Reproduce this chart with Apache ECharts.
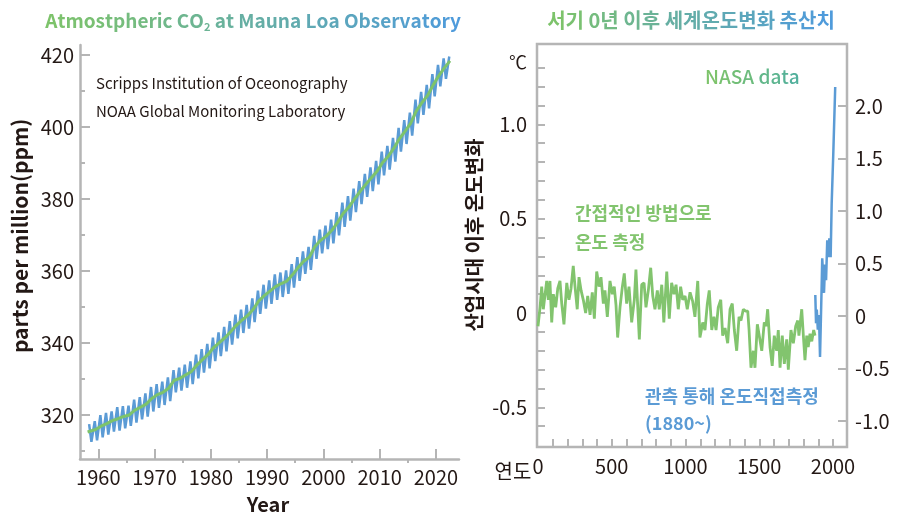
<!DOCTYPE html>
<html><head><meta charset="utf-8">
<script src="https://cdn.jsdelivr.net/npm/echarts@6/dist/echarts.min.js"></script>
<style>html,body{margin:0;padding:0;background:#fff}#c{width:910px;height:517px}</style>
</head><body><div id="c"></div>
<script>
// ---------- Left chart: CO2 at Mauna Loa ----------
const co2Years = [1958,1959,1960,1961,1962,1963,1964,1965,1966,1967,
  1968,1969,1970,1971,1972,1973,1974,1975,1976,1977,
  1978,1979,1980,1981,1982,1983,1984,1985,1986,1987,
  1988,1989,1990,1991,1992,1993,1994,1995,1996,1997,
  1998,1999,2000,2001,2002,2003,2004,2005,2006,2007,
  2008,2009,2010,2011,2012,2013,2014,2015,2016,2017,
  2018,2019,2020,2021,2022];
const co2Annual = [315.3,315.98,316.91,317.64,318.45,318.99,319.62,320.04,321.37,322.18,
  323.05,324.62,325.68,326.32,327.46,329.68,330.19,331.13,332.03,333.84,
  335.41,336.84,338.76,340.12,341.48,343.15,344.87,346.35,347.61,349.31,
  351.69,353.20,354.45,355.70,356.54,357.21,358.96,360.97,362.74,363.88,
  366.84,368.54,369.71,371.32,373.45,375.98,377.70,379.98,382.09,384.02,
  385.83,387.64,390.10,391.85,394.06,396.74,398.81,401.01,404.41,406.76,
  408.72,411.66,414.24,416.45,418.4];
const co2SeasonMax = [317.5,318.3,320.0,320.6,321.0,322.2,322.5,322.6,324.3,325.0,
  326.0,327.8,328.6,329.3,330.5,332.5,333.2,334.0,334.9,336.8,
  338.3,339.8,341.5,343.0,344.5,346.1,347.9,349.3,350.6,352.4,
  354.6,356.2,357.4,359.1,359.6,360.2,361.9,363.9,365.5,366.7,
  369.8,371.5,372.6,374.3,376.4,379.0,380.8,382.9,385.0,387.0,
  388.8,390.6,393.2,394.8,397.0,399.8,401.9,404.0,407.6,409.8,
  411.7,414.7,417.3,419.1,419.6];
const co2SeasonMin = [312.6,313.0,313.8,314.6,315.4,315.7,316.3,317.0,317.9,318.8,
  319.6,321.0,322.0,322.8,323.9,326.3,326.8,327.6,328.6,330.2,
  331.8,333.0,335.0,336.4,337.7,339.6,341.3,342.8,344.0,345.8,
  348.1,349.6,350.9,352.0,352.8,353.7,355.4,357.3,359.2,360.3,
  363.4,364.9,366.1,367.7,369.9,372.3,374.0,376.4,378.6,380.6,
  382.2,384.1,386.6,388.2,390.4,393.2,395.3,397.6,401.0,403.4,
  405.2,408.5,411.3,413.4,null];
const co2YTicks = [320,340,360,380,400,420];
const co2YMinorTicks = [310,330,350,370,390,410];
const co2XTicks = [1960,1970,1980,1990,2000,2010,2020];
const co2XMinorTicks = [1965,1975,1985,1995,2005,2015];

// ---------- Right chart: temperature since year 0 ----------
const proxyYears = [0,14,25,36,59,70,81,93,104,120,
  134,149,161,176,195,210,224,239,251,266,
  278,292,307,323,337,353,368,382,398,414,
  427,443,454,470,488,504,517,529,540,556,
  572,585,601,617,635,653,664,687,703,719,
  732,748,764,778,793,809,822,839,853,873,
  890,906,922,936,951,967,981,997,1012,1031,
  1049,1064,1083,1098,1117,1132,1148,1161,1178,1193,
  1207,1222,1239,1252,1268,1286,1302,1317,1331,1347,
  1363,1376,1392,1408,1422,1431,1444,1460,1471,1487,
  1500,1517,1534,1546,1557,1573,1588,1602,1618,1629,
  1641,1656,1670,1686,1697,1715,1731,1747,1761,1769,
  1788,1799,1810,1822,1832,1844,1856,1869,1878];
const proxyTemp = [-0.07,0.03,0.14,0.02,0.17,0.07,0.17,-0.05,0.10,0.03,
  0.13,0.17,0.05,-0.06,0.16,0.07,0.13,0.25,0.14,0.02,
  0.19,0.12,0.07,0.00,0.09,-0.01,0.11,-0.03,0.22,0.14,
  0.19,0.05,0.12,-0.02,0.17,0.10,0.14,0.04,-0.13,0.03,
  0.14,0.21,0.05,0.14,-0.05,0.07,0.23,-0.14,0.15,0.16,
  0.03,0.12,0.24,0.09,0.02,0.12,0.02,0.15,-0.05,0.22,
  -0.03,0.16,0.10,0.15,0.02,0.14,0.07,0.09,0.02,0.11,
  0.06,-0.02,0.17,-0.13,-0.05,-0.09,0.05,0.12,-0.09,-0.02,
  -0.09,0.03,0.07,-0.12,-0.08,-0.16,0.02,0.05,-0.09,-0.20,
  -0.02,-0.04,0.02,0.01,0.01,-0.09,-0.29,-0.20,-0.29,-0.06,
  -0.07,-0.20,-0.05,-0.07,0.02,-0.18,-0.28,-0.12,-0.20,-0.09,
  -0.29,-0.12,-0.27,-0.14,-0.30,-0.09,-0.16,-0.07,-0.04,-0.12,
  0.02,-0.12,-0.25,-0.12,-0.18,-0.11,-0.15,-0.09,-0.12];
const nasaYears = [1880,1885,1890,1897,1905,1912,1923,1927,1939,1946,1953,1961,1971,1975,1984,1991,2002,2015];
const nasaTemp = [0.20,-0.07,0.06,-0.13,0.01,-0.39,0.28,0.55,0.22,0.49,0.34,0.72,0.56,0.74,0.56,1.07,1.55,2.18];
const tempLeftTicks = [-0.5,0,0.5,1.0];
const tempLeftMinor = [-0.6,-0.5,-0.4,-0.3,-0.2,-0.1,0,0.1,0.2,0.3,0.4,0.5,0.6,0.7,0.8,0.9,1.0,1.1,1.2,1.3];
const tempRightTicks = [-1.0,-0.5,0,0.5,1.0,1.5,2.0];
const yearTicks = [0,500,1000,1500,2000];
const yearMinorTicks = [100,200,300,400,500,600,700,800,900,1000,1100,1200,1300,1400,1500,1600,1700,1800,1900,2000];

// ---------- styling ----------
const FONT = '"Noto Sans CJK KR","Noto Sans",sans-serif';
const DARK = '#231815';
const GRAY = '#b5b5b5';
const GREEN = '#7DC36B';
const BLUE = '#5B9BD5';

function hex(c){return [parseInt(c.slice(1,3),16),parseInt(c.slice(3,5),16),parseInt(c.slice(5,7),16)];}
function lerp(c1,c2,t){const a=hex(c1),b=hex(c2);return 'rgb('+a.map((v,i)=>Math.round(v+(b[i]-v)*t)).join(',')+')';}
function gradRich(str,c1,c2,size,weight,subIdx){
  const rich={}; let text='';
  const n=str.length;
  for(let i=0;i<n;i++){
    const k='g'+i;
    const col=lerp(c1,c2,n>1?i/(n-1):0);
    if(i===subIdx){
      rich[k]={color:col,fill:col,fontSize:Math.round(size*0.6),fontWeight:weight,fontFamily:FONT,verticalAlign:'bottom',lineHeight:size*1.3};
    } else {
      rich[k]={color:col,fill:col,fontSize:size,fontWeight:weight,fontFamily:FONT,lineHeight:size*1.3};
    }
    text+='{'+k+'|'+str[i]+'}';
  }
  return {text,rich};
}

const co2Season=[];
co2Years.forEach((y,i)=>{
  if(co2SeasonMax[i]!=null) co2Season.push([y+0.37,co2SeasonMax[i]]);
  if(co2SeasonMin[i]!=null) co2Season.push([y+0.78,co2SeasonMin[i]]);
});
const co2Trend = co2Years.map((y,i)=>[y+0.5,co2Annual[i]]);
co2Trend[0][0]=1958.1;
const proxyData = proxyYears.map((y,i)=>[y,proxyTemp[i]]);
const nasaData = nasaYears.map((y,i)=>[y,nasaTemp[i]]);

const t1 = gradRich('Atmostpheric CO2 at Mauna Loa Observatory','#7DC36B','#4F9BDB',19,'bold',15);
const t2 = gradRich('서기 0년 이후 세계온도변화 추산치','#7DC36B','#4F9BDB',20,'bold',-1);
const t3 = gradRich('NASA data','#7DC36B','#52B09C',19,'500',-1);

const lblStyle = {color:DARK,fontSize:20,fontFamily:FONT};
const fmtInt = v => String(Math.round(v));
const fmtT = v => (Math.abs(v)<1e-9 ? '0' : (v<0?'-':'')+Math.abs(v).toFixed(1));

const option = {
  animation:false,
  backgroundColor:'#fff',
  grid:[
    {left:80,top:45,width:379,height:414},
    {left:537,top:44,width:310,height:403,show:true,borderColor:GRAY,borderWidth:2.5,backgroundColor:'transparent'}
  ],
  xAxis:[
    {gridIndex:0,type:'value',position:'bottom',min:1956.75,max:2024.1,
     axisLine:{onZero:false,lineStyle:{color:GRAY,width:2.5}},
     axisTick:{inside:true,length:10,customValues:co2XTicks,lineStyle:{color:GRAY,width:2}},
     axisLabel:Object.assign({customValues:co2XTicks,margin:8,formatter:fmtInt},lblStyle),
     splitLine:{show:false}},
    {gridIndex:0,type:'value',position:'bottom',min:1956.75,max:2024.1,
     axisLine:{show:false,onZero:false},
     axisTick:{inside:false,length:4,customValues:co2XMinorTicks,lineStyle:{color:GRAY,width:2}},
     axisLabel:{show:false},splitLine:{show:false}},
    {gridIndex:1,type:'value',position:'bottom',min:-6.78,max:2094.9,
     axisLine:{show:false,onZero:false},
     axisTick:{inside:true,length:8,customValues:yearMinorTicks,lineStyle:{color:GRAY,width:2}},
     axisLabel:Object.assign({customValues:yearTicks,margin:9,formatter:fmtInt},lblStyle),
     splitLine:{show:false}}
  ],
  yAxis:[
    {gridIndex:0,type:'value',position:'left',min:307.8,max:422.8,
     axisLine:{show:true,onZero:false,lineStyle:{color:GRAY,width:2.5}},
     axisTick:{show:true,inside:true,length:10,customValues:co2YTicks,lineStyle:{color:GRAY,width:2}},
     axisLabel:Object.assign({customValues:co2YTicks,margin:6,formatter:fmtInt},lblStyle),
     splitLine:{show:false}},
    {gridIndex:0,type:'value',position:'left',min:307.8,max:422.8,
     axisLine:{show:false,onZero:false},
     axisTick:{show:true,inside:true,length:5,customValues:co2YMinorTicks,lineStyle:{color:GRAY,width:2}},
     axisLabel:{show:false},splitLine:{show:false}},
    {gridIndex:1,type:'value',position:'left',min:-0.710,max:1.4256,
     axisLine:{show:false,onZero:false},
     axisTick:{show:true,inside:true,length:8,customValues:tempLeftMinor,lineStyle:{color:GRAY,width:2}},
     axisLabel:Object.assign({customValues:tempLeftTicks,margin:10,formatter:fmtT},lblStyle),
     splitLine:{show:false}},
    {gridIndex:1,type:'value',position:'right',min:-1.2476,max:2.590,
     axisLine:{show:false,onZero:false},
     axisTick:{show:true,inside:true,length:9,customValues:tempRightTicks,lineStyle:{color:GRAY,width:2}},
     axisLabel:Object.assign({customValues:tempRightTicks,margin:8,formatter:fmtT},lblStyle),
     splitLine:{show:false}}
  ],
  title:[
    {text:t1.text,left:248,top:3,textAlign:'center',textStyle:{rich:t1.rich}},
    {text:t2.text,left:686,top:2,textAlign:'center',textStyle:{rich:t2.rich}}
  ],
  graphic:[
    {type:'text',x:20,y:236,rotation:Math.PI/2,style:{text:'parts per million(ppm)',align:'center',verticalAlign:'middle',fill:DARK,font:'bold 21px '+FONT}},
    {type:'text',x:268,y:504,style:{text:'Year',align:'center',verticalAlign:'middle',fill:DARK,font:'bold 20px '+FONT}},
    {type:'text',x:96,y:83,style:{text:'Scripps Institution of Oceonography',align:'left',verticalAlign:'middle',fill:DARK,font:'15px '+FONT}},
    {type:'text',x:96,y:111,style:{text:'NOAA Global Monitoring Laboratory',align:'left',verticalAlign:'middle',fill:DARK,font:'15px '+FONT}},
    {type:'text',x:474,y:235,rotation:Math.PI/2,style:{text:'산업시대 이후 온도변화',align:'center',verticalAlign:'middle',fill:DARK,font:'bold 20px '+FONT}},
    {type:'text',x:518,y:62,style:{text:'℃',align:'center',verticalAlign:'middle',fill:DARK,font:'18px '+FONT}},
    {type:'text',x:705,y:77,style:{text:t3.text,rich:t3.rich,align:'left',verticalAlign:'middle'}},
    {type:'text',x:575,y:213,style:{text:'간접적인 방법으로',align:'left',verticalAlign:'middle',fill:'#82C46E',font:'bold 18px '+FONT}},
    {type:'text',x:575,y:242,style:{text:'온도 측정',align:'left',verticalAlign:'middle',fill:'#82C46E',font:'bold 18px '+FONT}},
    {type:'text',x:645,y:396,style:{text:'관측 통해 온도직접측정',align:'left',verticalAlign:'middle',fill:BLUE,font:'bold 18px '+FONT}},
    {type:'text',x:645,y:423,style:{text:'(1880~)',align:'left',verticalAlign:'middle',fill:BLUE,font:'bold 18px '+FONT}},
    {type:'text',x:513,y:471,style:{text:'연도',align:'center',verticalAlign:'middle',fill:DARK,font:'20px '+FONT}}
  ],
  series:[
    {type:'line',xAxisIndex:0,yAxisIndex:0,data:co2Season,symbol:'none',lineStyle:{color:BLUE,width:2.5},z:2},
    {type:'line',xAxisIndex:0,yAxisIndex:0,data:co2Trend,symbol:'none',lineStyle:{color:GREEN,width:3},z:3},
    {type:'line',xAxisIndex:2,yAxisIndex:2,data:proxyData,symbol:'none',lineStyle:{color:'#82C46E',width:2.8},z:3},
    {type:'line',xAxisIndex:2,yAxisIndex:3,data:nasaData,symbol:'none',clip:false,lineStyle:{color:BLUE,width:2.5},z:4}
  ]
};
const chart = echarts.init(document.getElementById('c'));
chart.setOption(option);
</script>
</body></html>
